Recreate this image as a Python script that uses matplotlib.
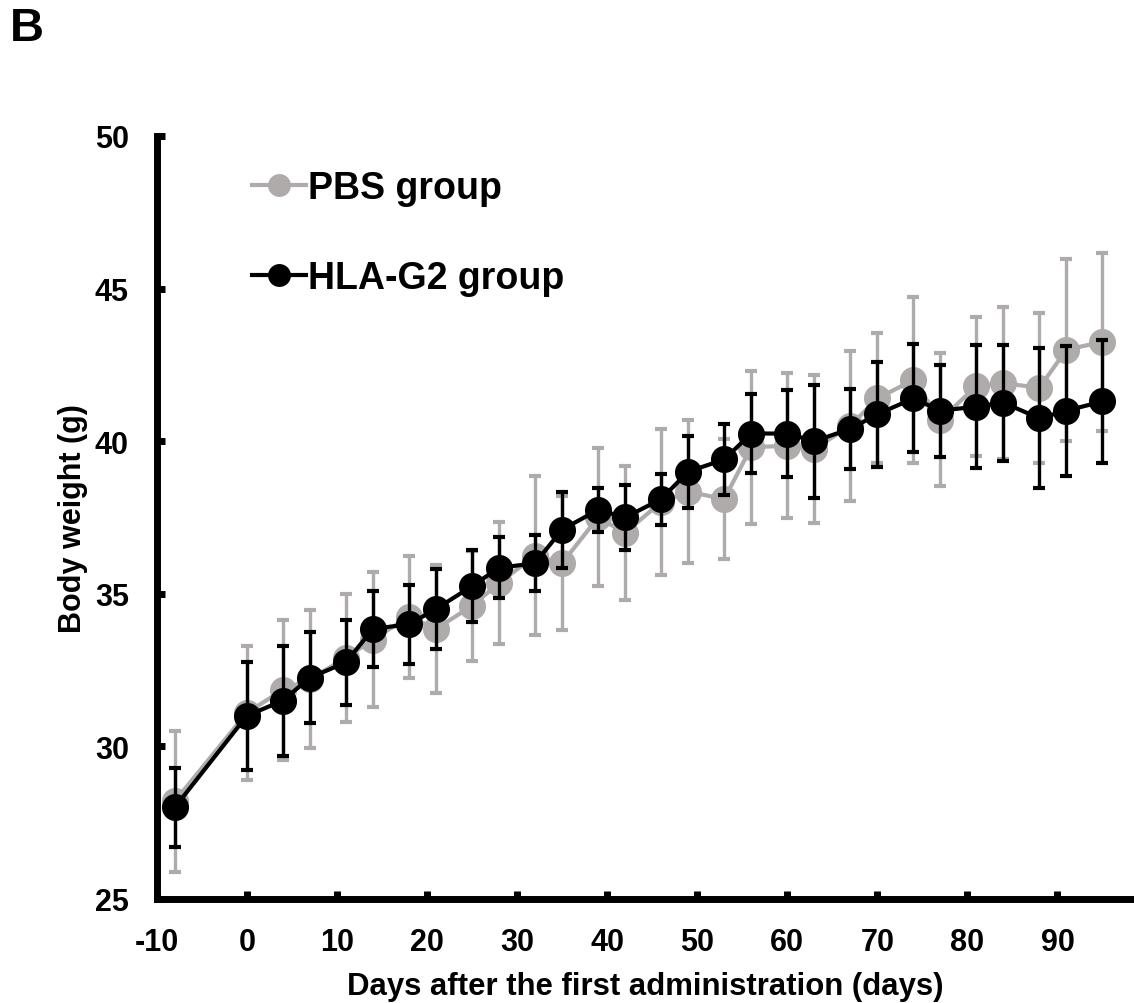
import matplotlib
matplotlib.use("Agg")
import matplotlib.pyplot as plt
from matplotlib.lines import Line2D

plt.rcParams['font.family'] = ['Liberation Sans', 'DejaVu Sans']
plt.rcParams['font.weight'] = 'bold'
plt.rcParams['axes.unicode_minus'] = False

# days after first administration
days = [-8, 0, 4, 7, 11, 14, 18, 21, 25, 28, 32, 35, 39, 42, 46, 49, 53,
        56, 60, 63, 67, 70, 74, 77, 81, 84, 88, 91, 95]

# PBS group (grey)
pbs_mean = [28.2, 31.1, 31.85, 32.2, 32.9, 33.5, 34.25, 33.85, 34.6, 35.35,
            36.25, 36.0, 37.5, 37.0, 38.0, 38.35, 38.1, 39.8, 39.85, 39.75,
            40.5, 41.4, 42.0, 40.7, 41.8, 41.9, 41.75, 43.0, 43.25]
pbs_sd = [2.3, 2.2, 2.3, 2.26, 2.1, 2.2, 2.0, 2.1, 1.8, 2.0,
          2.6, 2.2, 2.26, 2.2, 2.4, 2.33, 1.97, 2.5, 2.38, 2.43,
          2.46, 2.13, 2.73, 2.18, 2.27, 2.5, 2.45, 2.98, 2.93]

# HLA-G2 group (black)
hla_mean = [28.0, 31.0, 31.5, 32.25, 32.75, 33.85, 34.0, 34.5, 35.25, 35.85,
            36.0, 37.1, 37.75, 37.5, 38.1, 39.0, 39.4, 40.25, 40.25, 40.0,
            40.4, 40.88, 41.4, 41.0, 41.13, 41.26, 40.75, 41.0, 41.3]
hla_sd = [1.3, 1.77, 1.8, 1.5, 1.4, 1.25, 1.3, 1.3, 1.17, 1.0,
          0.92, 1.25, 0.72, 1.07, 0.84, 1.18, 1.17, 1.28, 1.41, 1.85,
          1.3, 1.72, 1.77, 1.51, 2.02, 1.9, 2.3, 2.13, 2.0]

grey = '#afabab'

fig = plt.figure(figsize=(11.34, 10.04), dpi=100)
ax = fig.add_axes([0.1382, 0.1036, 0.8618, 0.760])

# grey series first, black on top
ax.errorbar(days, pbs_mean, yerr=pbs_sd, fmt='none', ecolor=grey, elinewidth=2.4,
            capsize=4.5, capthick=3, zorder=2, clip_on=False)
ax.plot(days, pbs_mean, color=grey, marker='o', markersize=19.5,
        markeredgewidth=0, linewidth=3, zorder=2.5, clip_on=False)
ax.errorbar(days, hla_mean, yerr=hla_sd, fmt='none', ecolor='black', elinewidth=2.4,
            capsize=4.5, capthick=3, zorder=3, clip_on=False)
ax.plot(days, hla_mean, color='black', marker='o', markersize=19.5,
        markeredgewidth=0, linewidth=3, zorder=3.5, clip_on=False)

ax.set_xlim(-10, 98.5)
ax.set_ylim(25, 50)
ax.set_xticks(range(-10, 100, 10))
ax.set_yticks(range(25, 55, 5))

for s in ['top', 'right']:
    ax.spines[s].set_visible(False)
for s in ['left', 'bottom']:
    ax.spines[s].set_linewidth(5)
ax.tick_params(direction='in', length=6, width=5, labelsize=22, pad=20)

ax.set_xlabel('Days after the first administration (days)', fontsize=22.4,
              fontweight='bold', labelpad=10)
ax.set_ylabel('Body weight (g)', fontsize=22, fontweight='bold', labelpad=5)

# legend
handles = [Line2D([], [], color=grey, marker='o', markersize=16.5, markeredgewidth=0, linewidth=3),
           Line2D([], [], color='black', marker='o', markersize=16.5, markeredgewidth=0, linewidth=3)]
ax.legend(handles, ['PBS group', 'HLA-G2 group'], loc='upper left',
          bbox_to_anchor=(0.082, 0.975), frameon=False, fontsize=27,
          handlelength=1.45, handletextpad=0.05, labelspacing=1.45, borderaxespad=0)

fig.text(0.009, 0.993, 'B', fontsize=34, fontweight='bold', va='top', ha='left')

fig.savefig('out.png', dpi=100)
